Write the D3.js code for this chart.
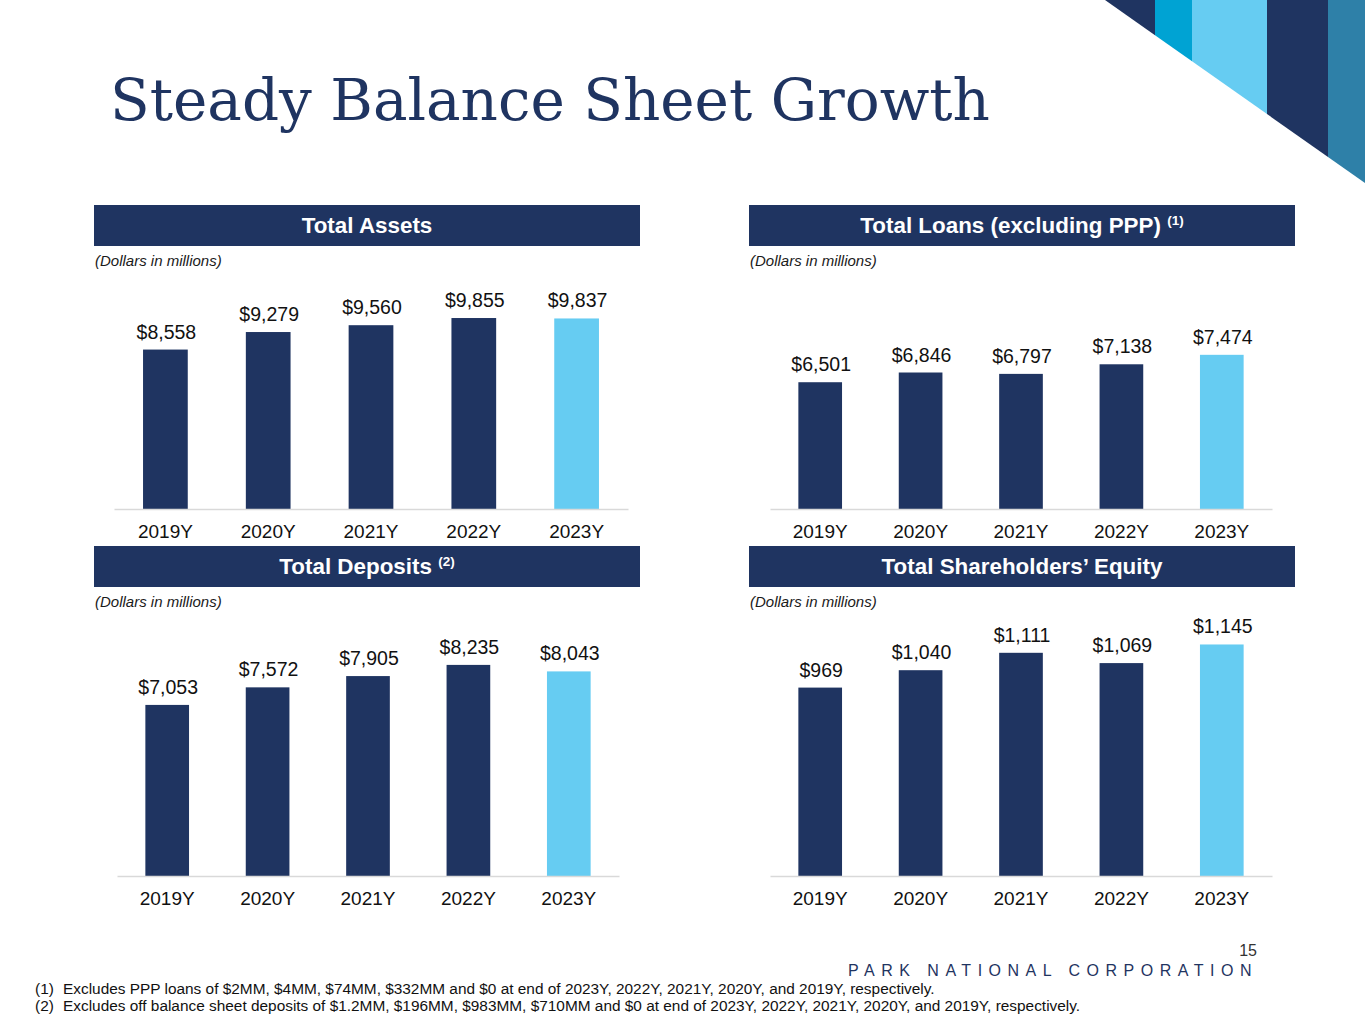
<!DOCTYPE html>
<html>
<head>
<meta charset="utf-8">
<script src="https://cdn.jsdelivr.net/npm/d3@7"></script>
<style>
  body { margin: 0; background: #fff; }
  svg { display: block; font-family: "Liberation Sans", Arial, sans-serif; }
</style>
</head>
<body>
<div id="slide"></div>
<script>
// data (dollars in millions)
var years = ["2019Y", "2020Y", "2021Y", "2022Y", "2023Y"];
var totalAssets = [8558, 9279, 9560, 9855, 9837];
var totalLoans = [6501, 6846, 6797, 7138, 7474];
var totalDeposits = [7053, 7572, 7905, 8235, 8043];
var totalEquity = [969, 1040, 1111, 1069, 1145];

var footnotes = [
  ["(1)", "Excludes PPP loans of $2MM, $4MM, $74MM, $332MM and $0 at end of 2023Y, 2022Y, 2021Y, 2020Y, and 2019Y, respectively."],
  ["(2)", "Excludes off balance sheet deposits of $1.2MM, $196MM, $983MM, $710MM and $0 at end of 2023Y, 2022Y, 2021Y, 2020Y, and 2019Y, respectively."]
];

var navy = "#1f3461", light = "#66ccf2";

var W = 1365, H = 1024;
var svg = d3.select("#slide").append("svg")
  .attr("width", W)
  .attr("height", H);

// corner stripes, cut by a diagonal
var cut = function(x) { return (x - 1105) * 0.704; };
var stripes = [
  {x0: 1105, x1: 1155, c: navy},
  {x0: 1155, x1: 1192, c: "#00a3d3"},
  {x0: 1192, x1: 1267, c: light},
  {x0: 1267, x1: 1328, c: navy},
  {x0: 1328, x1: 1365, c: "#2e80a8"}
];
svg.selectAll("polygon.stripe")
  .data(stripes)
  .enter().append("polygon")
  .attr("class", "stripe")
  .attr("fill", function(d) { return d.c; })
  .attr("points", function(d) {
    return [[d.x0, 0], [d.x1, 0], [d.x1, cut(d.x1)], [d.x0, cut(d.x0)]].join(" ");
  });

// title, sized to the slide's width
var title = svg.append("text")
  .attr("x", 110)
  .attr("y", 120)
  .attr("fill", navy)
  .style("font-family", "'DejaVu Serif', Georgia, serif")
  .style("font-size", "100px")
  .text("Steady Balance Sheet Growth");
var tw = title.node().getComputedTextLength();
title.style("font-size", (100 * 880 / tw) + "px");

var panels = [
  {title: "Total Assets", sup: "", values: totalAssets, domain: [2000, 10000],
   x0: 94, top: 205, base: 509, yTop: 314.5, ax: [114, 628]},
  {title: "Total Loans (excluding PPP)", sup: "(1)", values: totalLoans, domain: [2000, 8000],
   x0: 749, top: 205, base: 509, yTop: 340, ax: [770, 1272]},
  {title: "Total Deposits", sup: "(2)", values: totalDeposits, domain: [2000, 9000],
   x0: 94, top: 546, base: 876, yTop: 639, ax: [117, 619]},
  {title: "Total Shareholders\u2019 Equity", sup: "", values: totalEquity, domain: [200, 1200],
   x0: 749, top: 546, base: 876, yTop: 631, ax: [770, 1272]}
];

panels.forEach(function(p) {
  var g = svg.append("g");

  // header band
  g.append("rect")
    .attr("x", p.x0)
    .attr("y", p.top)
    .attr("width", 546)
    .attr("height", 41)
    .attr("fill", navy);
  var ht = g.append("text")
    .attr("x", p.x0 + 273)
    .attr("y", p.top + 28)
    .attr("text-anchor", "middle")
    .attr("fill", "#fff")
    .style("font-size", "22.4px")
    .style("font-weight", "bold")
    .text(p.title);
  if (p.sup) {
    ht.append("tspan").text(" ");
    ht.append("tspan")
      .attr("dy", -8)
      .style("font-size", "13.5px")
      .text(p.sup);
  }

  g.append("text")
    .attr("x", p.x0 + 1)
    .attr("y", p.top + 61)
    .style("font-size", "15px")
    .style("font-style", "italic")
    .attr("fill", "#1a1a1a")
    .text("(Dollars in millions)");

  var x = d3.scaleBand()
    .domain(years)
    .range(p.ax)
    .paddingInner(0.565)
    .paddingOuter(0.2825);

  var y = d3.scaleLinear()
    .domain(p.domain)
    .range([p.base, p.yTop]);

  var data = years.map(function(yr, i) { return {year: yr, value: p.values[i], last: i === years.length - 1}; });

  g.selectAll("rect.bar")
    .data(data)
    .enter().append("rect")
    .attr("class", "bar")
    .attr("x", function(d) { return x(d.year); })
    .attr("width", x.bandwidth())
    .attr("y", function(d) { return y(d.value); })
    .attr("height", function(d) { return p.base - y(d.value); })
    .attr("fill", function(d) { return d.last ? light : navy; });

  g.selectAll("text.val")
    .data(data)
    .enter().append("text")
    .attr("class", "val")
    .attr("x", function(d) { return x(d.year) + x.bandwidth() / 2 + 1; })
    .attr("y", function(d) { return y(d.value) - 11; })
    .attr("text-anchor", "middle")
    .attr("fill", "#111")
    .style("font-size", "19.5px")
    .text(function(d) { return "$" + d3.format(",")(d.value); });

  var axis = g.append("g")
    .attr("transform", "translate(0," + p.base + ")")
    .call(d3.axisBottom(x).tickSize(0).tickPadding(16));
  axis.select(".domain")
    .attr("stroke", "#d9d9d9")
    .attr("stroke-width", 1.5);
  axis.selectAll(".tick text")
    .attr("fill", "#111")
    .style("font-family", "'Liberation Sans', Arial, sans-serif")
    .style("font-size", "19px");
});

// page number and company name
svg.append("text")
  .attr("x", 1257)
  .attr("y", 956)
  .attr("text-anchor", "end")
  .attr("fill", "#333")
  .style("font-size", "16px")
  .text("15");

svg.append("text")
  .attr("x", 848)
  .attr("y", 976)
  .attr("fill", navy)
  .style("font-size", "16px")
  .style("letter-spacing", "6.5px")
  .text("PARK NATIONAL CORPORATION");

// footnotes
var fn = svg.selectAll("g.fn")
  .data(footnotes)
  .enter().append("g")
  .attr("class", "fn")
  .attr("transform", function(d, i) { return "translate(0," + (994 + i * 17) + ")"; });
fn.append("text")
  .attr("x", 35)
  .style("font-size", "15.4px")
  .attr("fill", "#111")
  .text(function(d) { return d[0]; });
fn.append("text")
  .attr("x", 63)
  .style("font-size", "15.4px")
  .attr("fill", "#111")
  .text(function(d) { return d[1]; });
</script>
</body>
</html>
